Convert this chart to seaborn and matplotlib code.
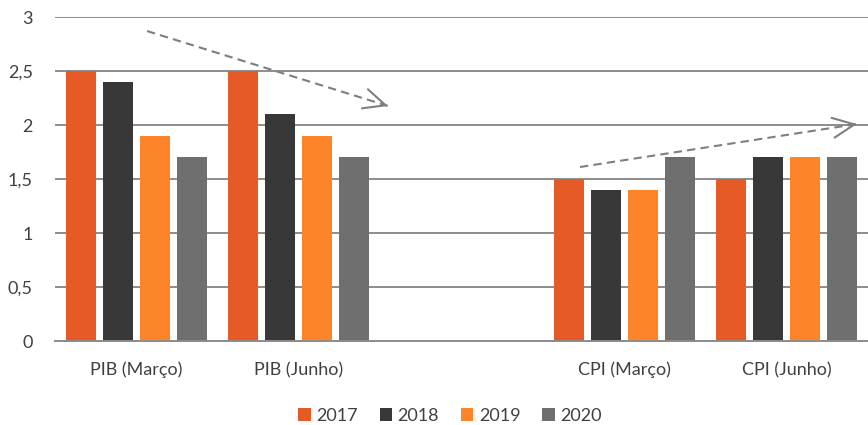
import matplotlib
matplotlib.use("Agg")
import matplotlib.pyplot as plt
import seaborn as sns
import pandas as pd
import numpy as np

# Categories (the blank one leaves a spacer slot between the PIB and CPI groups)
categories = ["PIB (Março)", "PIB (Junho)", " ", "CPI (Março)", "CPI (Junho)"]
years = ["2017", "2018", "2019", "2020"]
values_2017 = [2.5, 2.5, np.nan, 1.5, 1.5]
values_2018 = [2.4, 2.1, np.nan, 1.4, 1.7]
values_2019 = [1.9, 1.9, np.nan, 1.4, 1.7]
values_2020 = [1.7, 1.7, np.nan, 1.7, 1.7]
y_ticks = [0, 0.5, 1, 1.5, 2, 2.5, 3]
y_tick_labels = ["0", "0,5", "1", "1,5", "2", "2,5", "3"]
colors = ["#E55A25", "#383838", "#FD8429", "#6F6F6F"]

rows = []
for year, vals in zip(years, [values_2017, values_2018, values_2019, values_2020]):
    for cat, v in zip(categories, vals):
        rows.append({"categoria": cat, "ano": year, "valor": v})
df = pd.DataFrame(rows)

sns.set_theme(style="white")
plt.rcParams["font.family"] = ["Lato", "DejaVu Sans"]

fig = plt.figure(figsize=(8.68, 4.25), dpi=100)
ax = fig.add_axes([55 / 868, 84 / 425, 813 / 868, 324 / 425])

sns.barplot(data=df, x="categoria", y="valor", hue="ano", order=categories,
            hue_order=years, palette=colors, width=0.91, gap=0.19,
            saturation=1, errorbar=None, linewidth=0, ax=ax, legend=True)

ax.set_ylim(0, 3)
ax.set_xlim(-0.5, len(categories) - 0.5)
ax.set_yticks(y_ticks)
ax.set_yticklabels(y_tick_labels)
ax.yaxis.grid(True, color="#8C8C8C", linewidth=1.4)
ax.set_axisbelow(True)
for side in ["top", "right", "left"]:
    ax.spines[side].set_visible(False)
ax.spines["bottom"].set_color("#8C8C8C")
ax.spines["bottom"].set_linewidth(1.4)
ax.tick_params(axis="both", length=0, labelsize=13, colors="#404040")
ax.tick_params(axis="y", pad=16)
ax.tick_params(axis="x", pad=15)
ax.set_xlabel("")
ax.set_ylabel("")

# Trend arrows (dashed shaft, open head)
arrow_color = "#7F7F7F"
trends = [((0.066, 2.87), (1.548, 2.176)), ((2.729, 1.611), (4.432, 2.009))]
for (x0, y0), (x1, y1) in trends:
    ax.plot([x0, x1], [y0, y1], color=arrow_color, linewidth=1.5,
            linestyle=(0, (4, 2.5)), zorder=5)
    dx, dy = x1 - x0, y1 - y0
    ax.annotate("", xy=(x1, y1), xytext=(x1 - dx * 0.02, y1 - dy * 0.02),
                arrowprops=dict(arrowstyle="->, head_length=1.3, head_width=0.6",
                                color=arrow_color, lw=1.5, shrinkA=0, shrinkB=0),
                zorder=6)

handles, labels = ax.get_legend_handles_labels()
ax.legend_.remove()
fig.legend(handles, labels, loc="center", bbox_to_anchor=(450 / 868, 9 / 425),
           ncol=4, frameon=False, fontsize=13, handlelength=0.7, handleheight=0.7,
           handletextpad=0.3, columnspacing=1.2, labelcolor="#404040")

fig.savefig("out.png", dpi=100)
